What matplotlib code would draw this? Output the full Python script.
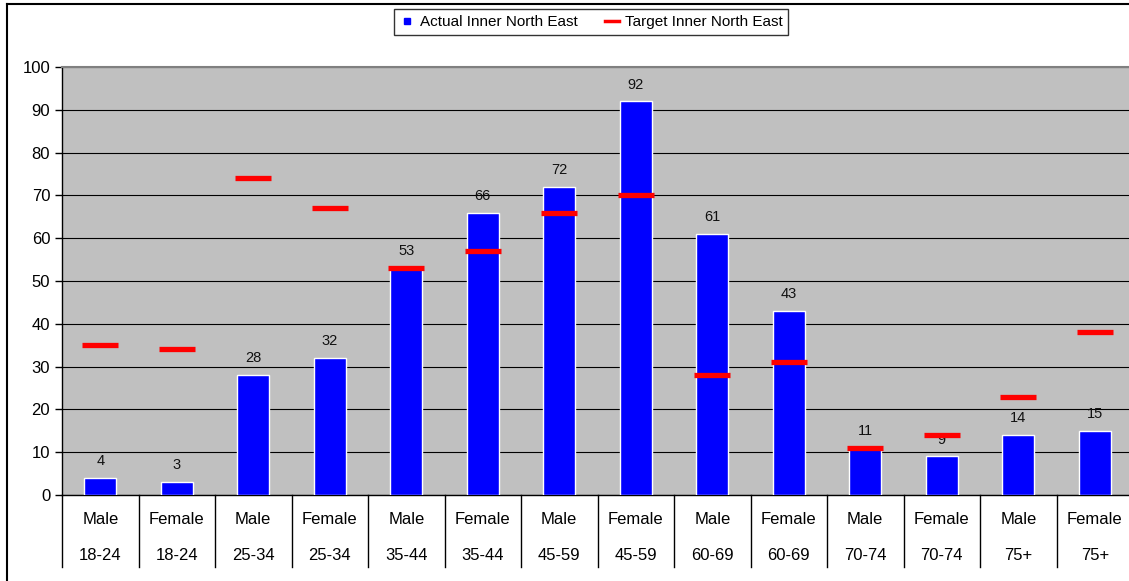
import matplotlib

matplotlib.use("Agg")
import matplotlib.pyplot as plt
from matplotlib.lines import Line2D
import numpy as np

plt.rcParams["font.family"] = ["Liberation Sans", "DejaVu Sans"]

GENDERS = ["Male", "Female"] * 7
AGE_BANDS = ["18-24", "18-24", "25-34", "25-34", "35-44", "35-44", "45-59",
             "45-59", "60-69", "60-69", "70-74", "70-74", "75+", "75+"]
ACTUAL = [4, 3, 28, 32, 53, 66, 72, 92, 61, 43, 11, 9, 14, 15]
TARGET = [35, 34, 74, 67, 53, 57, 66, 70, 28, 31, 11, 14, 23, 38]

fig = plt.figure(figsize=(11.29, 5.81), dpi=100)
ax = fig.add_axes([62 / 1129, 86 / 581, 1071 / 1129, 428 / 581])
ax.set_facecolor("#c0c0c0")

x = np.arange(len(ACTUAL))
bars = ax.bar(x, ACTUAL, width=0.42, color="#0000ff", edgecolor="white",
              linewidth=1.0, zorder=3)
for xi, v in zip(x, ACTUAL):
    ax.annotate(f"{v}", xy=(xi, v), xytext=(0, 12), textcoords="offset points",
                ha="center", va="center", fontsize=10.5, color="#111111")
ax.plot(x, TARGET, ls="none", marker="_", markersize=26, mew=3.8,
        color="#ff0000", zorder=4)

ax.set_xlim(-0.5, len(ACTUAL) - 0.5)
ax.set_ylim(0, 100)
ax.set_yticks(np.arange(0, 101, 10))
ax.tick_params(axis="y", labelsize=12, length=5, width=1, direction="out")
ax.tick_params(axis="x", bottom=False, labelbottom=False)
ax.yaxis.grid(True, color="black", linewidth=0.8, zorder=1)
ax.set_axisbelow(True)
for side in ["left", "bottom"]:
    ax.spines[side].set_color("black")
    ax.spines[side].set_linewidth(1.0)
ax.spines["top"].set_color("#808080")
ax.spines["top"].set_linewidth(1.5)
ax.spines["right"].set_visible(False)

# two-level category axis
tr = ax.get_xaxis_transform()
for xi, g, a in zip(x, GENDERS, AGE_BANDS):
    ax.text(xi, -25 / 428, g, transform=tr, ha="center", va="center",
            fontsize=12)
    ax.text(xi, -60 / 428, a, transform=tr, ha="center", va="center",
            fontsize=12)
for b in np.arange(len(ACTUAL) + 1) - 0.5:
    ax.plot([b, b], [0, -72 / 428], transform=tr, color="black",
            linewidth=1.0, clip_on=False)

handles = [
    Line2D([], [], ls="none", marker="s", markersize=5, color="#0000ff"),
    Line2D([], [], color="#ff0000", linewidth=2.5),
]
leg = fig.legend(handles, ["Actual Inner North East", "Target Inner North East"],
                 loc="center", bbox_to_anchor=(591 / 1129, 1 - 22 / 581),
                 ncol=2, fontsize=11, frameon=True, fancybox=False,
                 edgecolor="black", handlelength=0.9, handletextpad=0.4,
                 columnspacing=1.8, borderpad=0.4)
leg.get_frame().set_linewidth(1.0)

# chart-area frame (cropped at right and bottom)
fig.add_artist(Line2D([7 / 1129, 1], [1 - 4 / 581] * 2, color="black",
                      linewidth=1.5, transform=fig.transFigure))
fig.add_artist(Line2D([7 / 1129] * 2, [0, 1 - 4 / 581], color="black",
                      linewidth=1.5, transform=fig.transFigure))

fig.savefig("out.png", dpi=100)
